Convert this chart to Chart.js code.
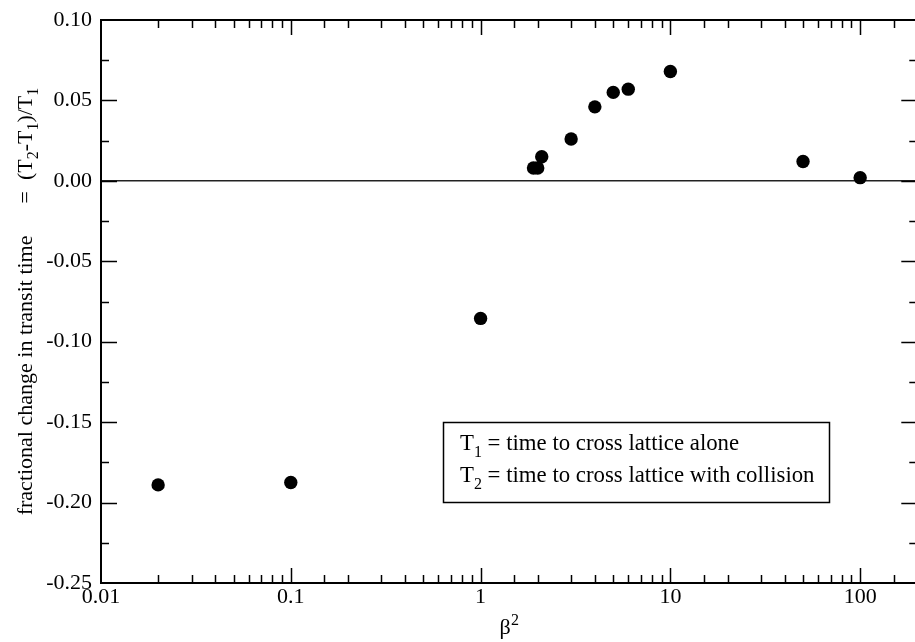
<!DOCTYPE html>
<html><head><meta charset="utf-8">
<script src="https://cdn.jsdelivr.net/npm/chart.js@4/dist/chart.umd.min.js"></script>
<style>
html,body{margin:0;padding:0;background:#fff;overflow:hidden;}
#wrap{width:915px;height:642px;overflow:hidden;position:relative;background:#fff;}
#c{position:absolute;left:0;top:0;}
</style></head><body>
<div id="wrap"><canvas id="c" width="924" height="642" style="width:924px;height:642px"></canvas></div>
<script>
// ---- data ----
const betaSquared      = [0.02, 0.1, 1, 1.9, 2.0, 2.1, 3, 4, 5, 6, 10, 50, 100];
const fractionalChange = [-0.189, -0.1875, -0.0855, 0.008, 0.008, 0.015, 0.026, 0.046, 0.055, 0.057, 0.068, 0.012, 0.002];
const xTickValues = [0.01, 0.1, 1, 10, 100];
const xTickLabels = ['0.01', '0.1', '1', '10', '100'];
const yTickValues = [0.10, 0.05, 0.00, -0.05, -0.10, -0.15, -0.20, -0.25];
const yTickLabels = ['0.10', '0.05', '0.00', '-0.05', '-0.10', '-0.15', '-0.20', '-0.25'];
const legendLines = [
  [['T', 0], ['1', 1], [' = time to cross lattice alone', 0]],
  [['T', 0], ['2', 1], [' = time to cross lattice with collision', 0]]
];
const yTitleParts = [
  [['fractional change in transit time', 0]],
  [['=', 0]],
  [['(T', 0], ['2', 1], ['-T', 0], ['1', 1], [')/T', 0], ['1', 1]]
];

const FONT = "'Liberation Serif', 'Times New Roman', serif";
const isMajorLog = v => Math.abs(Math.log10(v) - Math.round(Math.log10(v))) < 1e-6;

function runsWidth(ctx, runs, size, subSize) {
  let w = 0;
  runs.forEach(([t, s]) => { ctx.font = (s ? subSize : size) + 'px ' + FONT; w += ctx.measureText(t).width; });
  return w;
}
function drawRuns(ctx, runs, x, y, size, subSize, subOff) {
  runs.forEach(([t, s]) => {
    ctx.font = (s ? subSize : size) + 'px ' + FONT;
    ctx.fillText(t, x, y + (s ? subOff : 0));
    x += ctx.measureText(t).width;
  });
  return x;
}

const decor = {
  id: 'decor',
  afterDatasetsDraw(chart) {
    const { ctx, chartArea: a, scales: { x, y } } = chart;
    ctx.save();
    ctx.strokeStyle = '#000';
    ctx.fillStyle = '#000';
    // top & right frame
    ctx.lineWidth = 2;
    ctx.beginPath();
    ctx.moveTo(a.left, a.top); ctx.lineTo(a.right, a.top); ctx.lineTo(a.right, a.bottom);
    ctx.stroke();
    // x ticks (inward, bottom and top)
    ctx.lineWidth = 1.5;
    x.ticks.forEach(t => {
      const px = Math.round(x.getPixelForValue(t.value)) + 0.5;
      if (px < a.left + 1 || px > a.right - 1) return;
      const L = isMajorLog(t.value) ? 15 : 8;
      ctx.beginPath();
      ctx.moveTo(px, a.bottom); ctx.lineTo(px, a.bottom - L);
      ctx.moveTo(px, a.top); ctx.lineTo(px, a.top + L);
      ctx.stroke();
    });
    // y ticks (major + minor midpoints), left and right
    const yt = y.ticks.map(t => t.value);
    const yTick = (v, L) => {
      const py = Math.round(y.getPixelForValue(v)) + 0.5;
      if (py < a.top + 1 || py > a.bottom - 1) return;
      ctx.beginPath();
      ctx.moveTo(a.left, py); ctx.lineTo(a.left + L, py);
      ctx.moveTo(a.right, py); ctx.lineTo(a.right - L, py);
      ctx.stroke();
    };
    yt.forEach(v => yTick(v, 16));
    for (let i = 0; i < yt.length - 1; i++) yTick((yt[i] + yt[i + 1]) / 2, 8);

    // legend box
    ctx.lineWidth = 1.5;
    ctx.strokeRect(443.5, 422.5, 386, 80);
    ctx.textBaseline = 'alphabetic';
    ctx.textAlign = 'left';
    drawRuns(ctx, legendLines[0], 460, 450, 22.8, 16, 7);
    drawRuns(ctx, legendLines[1], 460, 482, 22.8, 16, 7);

    // y axis title (rotated)
    ctx.save();
    ctx.translate(32, (a.top + a.bottom) / 2);
    ctx.rotate(-Math.PI / 2);
    const gaps = [32, 11];
    const widths = yTitleParts.map(p => runsWidth(ctx, p, 22, 16));
    const total = widths.reduce((s, w) => s + w, 0) + gaps[0] + gaps[1];
    let cx = -total / 2;
    yTitleParts.forEach((p, i) => {
      drawRuns(ctx, p, cx, 0, 22, 16, 6);
      cx += widths[i] + (gaps[i] || 0);
    });
    ctx.restore();

    // x axis title beta^2
    ctx.font = '22px ' + FONT;
    const wb = ctx.measureText('β').width;
    ctx.font = '16px ' + FONT;
    const w2 = ctx.measureText('2').width;
    const xc = 509;
    let sx = xc - (wb + w2) / 2;
    ctx.font = '22px ' + FONT;
    ctx.fillText('β', sx, 634);
    ctx.font = '16px ' + FONT;
    ctx.fillText('2', sx + wb + 0.5, 625);
    ctx.restore();
  }
};

new Chart(document.getElementById('c'), {
  type: 'scatter',
  data: {
    datasets: [{
      data: betaSquared.map((b, i) => ({ x: b, y: fractionalChange[i] })),
      pointRadius: 6.7,
      pointBackgroundColor: '#000',
      pointBorderWidth: 0,
      showLine: false
    }]
  },
  options: {
    responsive: false,
    devicePixelRatio: 1,
    animation: false,
    events: [],
    layout: { padding: { left: 0, right: 0, top: 12, bottom: 0 } },
    plugins: { legend: { display: false }, tooltip: { enabled: false } },
    scales: {
      x: {
        type: 'logarithmic',
        min: 0.01, max: 200,
        afterFit: s => { s.height = 59; },
        grid: { display: false, drawTicks: false },
        border: { display: true, color: '#000', width: 2 },
        ticks: {
          autoSkip: false, maxRotation: 0, minRotation: 0, padding: 3,
          color: '#000', font: { family: FONT, size: 22, lineHeight: 1 },
          callback: v => {
            const i = xTickValues.findIndex(t => Math.abs(t - v) / t < 1e-6);
            return i >= 0 ? xTickLabels[i] : '';
          }
        }
      },
      y: {
        min: -0.25, max: 0.10,
        afterFit: s => { s.width = 101; },
        grid: {
          drawTicks: false,
          color: c => (c.tick && Math.abs(c.tick.value) < 1e-9) ? '#222' : 'rgba(0,0,0,0)',
          lineWidth: 1.5
        },
        border: { display: true, color: '#000', width: 2 },
        ticks: {
          stepSize: 0.05, padding: 9,
          color: '#000', font: { family: FONT, size: 22, lineHeight: 1 },
          callback: v => {
            const i = yTickValues.findIndex(t => Math.abs(t - v) < 1e-9);
            return i >= 0 ? yTickLabels[i] : '';
          }
        }
      }
    }
  },
  plugins: [decor]
});
</script>
</body></html>
